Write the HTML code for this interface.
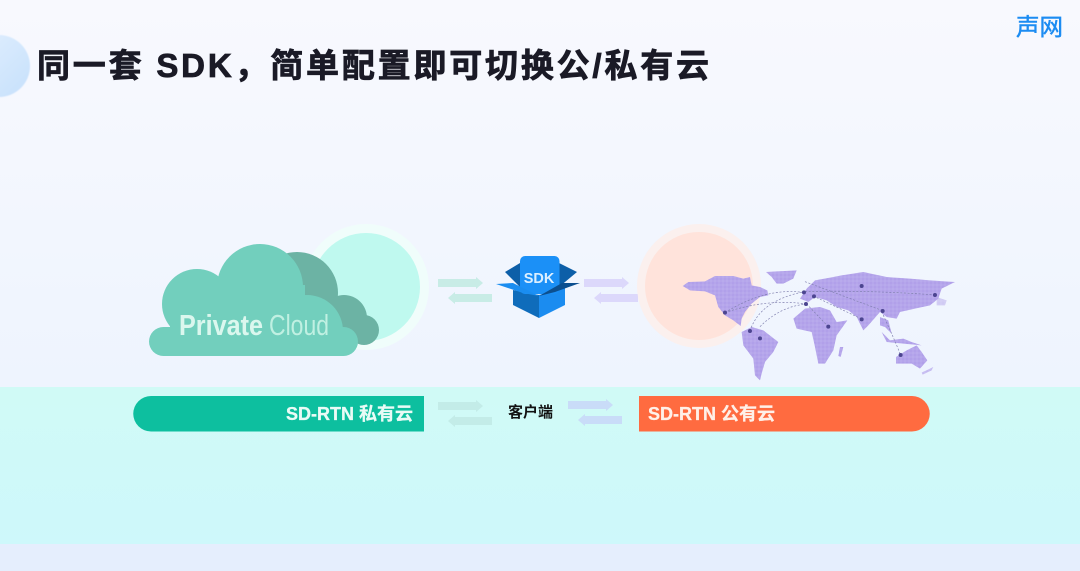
<!DOCTYPE html>
<html lang="zh"><head><meta charset="utf-8"><style>
html,body{margin:0;padding:0;width:1080px;height:571px;overflow:hidden}
svg{display:block}
text{font-family:"Liberation Sans","Noto Sans CJK SC",sans-serif}
</style></head><body>
<svg width="1080" height="571" viewBox="0 0 1080 571" xmlns="http://www.w3.org/2000/svg">
<defs>
<linearGradient id="bg" x1="0" y1="0" x2="0" y2="1"><stop offset="0" stop-color="#f8f9fe"/><stop offset="1" stop-color="#eef4fe"/></linearGradient>
<linearGradient id="band" x1="0" y1="0" x2="0" y2="1"><stop offset="0" stop-color="#d0faf6"/><stop offset="1" stop-color="#cef8fb"/></linearGradient>
<linearGradient id="blob" x1="0" y1="0" x2="1" y2="1"><stop offset="0" stop-color="#e2effe"/><stop offset="1" stop-color="#c6e0fc"/></linearGradient>
<pattern id="dots" width="2.4" height="2.4" patternUnits="userSpaceOnUse"><rect width="2.4" height="2.4" fill="#c8bdf2"/><rect width="1.7" height="1.7" fill="#a28de4"/></pattern>
<filter id="b1"><feGaussianBlur stdDeviation="0.5"/></filter>
<filter id="b2"><feGaussianBlur stdDeviation="0.3"/></filter>
<clipPath id="cloudclip"><rect x="140" y="230" width="250" height="126"/></clipPath>
<g id="arrows">
<path d="M0 2H38V0L45 6L38 12V10H0Z"/>
<path d="M54 17H17V15L10 21L17 27V25H54Z"/>
</g>
</defs>
<rect width="1080" height="387" fill="url(#bg)"/>
<rect y="387" width="1080" height="157" fill="url(#band)"/>
<rect y="544" width="1080" height="27" fill="#e5eefd"/>
<circle cx="-1" cy="66" r="31" fill="url(#blob)" filter="url(#b1)"/>
<text x="37" y="77" font-size="33" font-weight="700" fill="#1a1a26" stroke="#1a1a26" stroke-width="0.8" textLength="672">同一套 SDK，简单配置即可切换公/私有云</text>
<text x="1016" y="35" font-size="23.5" fill="#1c8cf2" stroke="#1c8cf2" stroke-width="0.5">声网</text>

<circle cx="366" cy="287" r="63" fill="#f0fdfb"/>
<circle cx="366" cy="287" r="54" fill="#bff9ef"/>
<g filter="url(#b2)">
<g fill="#6cb3a4">
<circle cx="297" cy="293" r="41"/><circle cx="344" cy="318" r="23"/><circle cx="364" cy="330" r="15"/>
</g>
<g fill="#72cfbd" clip-path="url(#cloudclip)">
<circle cx="260" cy="287" r="43"/><circle cx="197" cy="304" r="35"/><circle cx="307" cy="331" r="36"/>
<rect x="215" y="285" width="90" height="50"/>
<rect x="170" y="305" width="140" height="30"/>
<rect x="149" y="327" width="209" height="29" rx="14.500"/>
</g>
</g>
<text x="179" y="335" font-size="29" font-weight="700" fill="#dbf7ee" textLength="84" lengthAdjust="spacingAndGlyphs">Private</text>
<text x="269" y="335" font-size="29" fill="#c0f0e2" textLength="60" lengthAdjust="spacingAndGlyphs">Cloud</text>

<use href="#arrows" x="438" y="277" fill="#c8ece6"/>

<g>
<path d="M505 272L520 263V287Z" fill="#0d5fa8"/>
<path d="M577 272L559 263V287Z" fill="#0d5fa8"/>
<path d="M513 290L539 295V318L513 305Z" fill="#0f6cbb"/>
<path d="M565 287L539 295V318L565 305Z" fill="#1b8cf0"/>
<rect x="520" y="256" width="39.500" height="38" rx="5" fill="#1b90f7"/>
<path d="M496 284L513 283L539 296L523 293Z" fill="#1a8df0"/>
<path d="M580 283L562 283L539 296L555 292Z" fill="#0c4f8f"/>
<text x="539" y="283" font-size="14.500" font-weight="700" fill="#dcefff" text-anchor="middle">SDK</text>
</g>

<use href="#arrows" x="584" y="277" fill="#dcd8fb"/>

<circle cx="699" cy="286" r="62" fill="#fbf0ee"/>
<circle cx="699" cy="286" r="54" fill="#ffe3db"/>

<g fill="url(#dots)" filter="url(#b2)">
<g transform="translate(680,262) scale(.3333)">
<path d="M8 72L25 60L75 58L105 42L160 42L190 50L210 45L215 70L240 75L262 85L265 100L240 105L215 125L195 150L185 170L182 192L160 175L135 160L115 135L105 100L75 88L30 85Z"/>
<path d="M258 30L350 25L340 50L310 65L290 65L275 45Z"/>
<path d="M185 210L215 195L250 205L295 240L280 270L255 300L245 335L240 355L225 340L220 290L190 250Z"/>
</g>
<g transform="translate(790,262) scale(.3333)">
<path d="M10 170L45 140L90 135L120 145L140 180L172 175L140 220L130 265L105 305L85 305L75 255L65 210L20 200Z"/>
<path d="M30 110L50 80L75 55L130 45L155 40L220 30L290 45L360 50L420 55L495 60L455 80L445 110L420 130L375 140L330 150L320 170L290 165L270 150L235 190L220 205L200 165L175 145L140 135L110 115L75 105L55 120Z"/>
<path d="M270 165L295 175L305 215L285 195L270 190Z"/>
<path d="M275 210L300 235L340 230L365 240L395 250L340 245L290 240Z"/>
<path d="M318 285L350 265L380 250L395 270L412 295L390 320L365 305L318 305Z"/>
<path d="M440 105L470 115L465 130L440 130Z" opacity=".5"/>
<path d="M150 255L160 255L152 285L145 282Z"/>
<path d="M395 332L430 315L425 325L398 338Z" opacity=".7"/>
</g>
</g>
<g transform="translate(560,220) scale(.3333)">
<g fill="none" stroke="#7f7fae" stroke-width="2" stroke-dasharray="6 5">
<path d="M495 278Q620 200 735 218"/>
<path d="M495 278Q620 235 740 252"/>
<path d="M570 333Q600 240 735 215"/>
<path d="M600 320Q660 260 738 252"/>
<path d="M735 215Q930 210 1125 225"/>
<path d="M735 185L968 272"/>
<path d="M740 252L805 320"/>
<path d="M965 275Q1000 350 1022 405"/>
<path d="M760 228L905 297"/>
</g>
<g fill="#4c4590">
<circle cx="495" cy="278" r="6"/><circle cx="570" cy="333" r="6"/><circle cx="600" cy="355" r="6"/><circle cx="732" cy="217" r="6"/><circle cx="762" cy="229" r="6"/><circle cx="738" cy="252" r="6"/><circle cx="805" cy="320" r="6"/><circle cx="905" cy="198" r="6"/><circle cx="905" cy="298" r="6"/><circle cx="968" cy="273" r="6"/><circle cx="1125" cy="225" r="6"/><circle cx="1022" cy="405" r="6"/>
</g>
</g>

<path d="M151 396H424V431.500H151A17.750 17.750 0 0 1 151 396Z" fill="#0dbf9f"/>
<text x="413" y="420" font-size="18" font-weight="700" fill="#e9fbf6" stroke="#e9fbf6" stroke-width="0.3" text-anchor="end">SD-RTN 私有云</text>
<use href="#arrows" x="438" y="400" fill="#c3ece8"/>
<text x="530.500" y="417" font-size="15" font-weight="700" fill="#111" text-anchor="middle">客户端</text>
<use href="#arrows" x="568" y="399" fill="#c9dcf8"/>
<path d="M639 396H912A17.750 17.750 0 0 1 912 431.500H639Z" fill="#ff6b40"/>
<text x="648" y="420" font-size="18" font-weight="700" fill="#fff0e8" stroke="#fff0e8" stroke-width="0.3">SD-RTN 公有云</text>
</svg>
</body></html>
